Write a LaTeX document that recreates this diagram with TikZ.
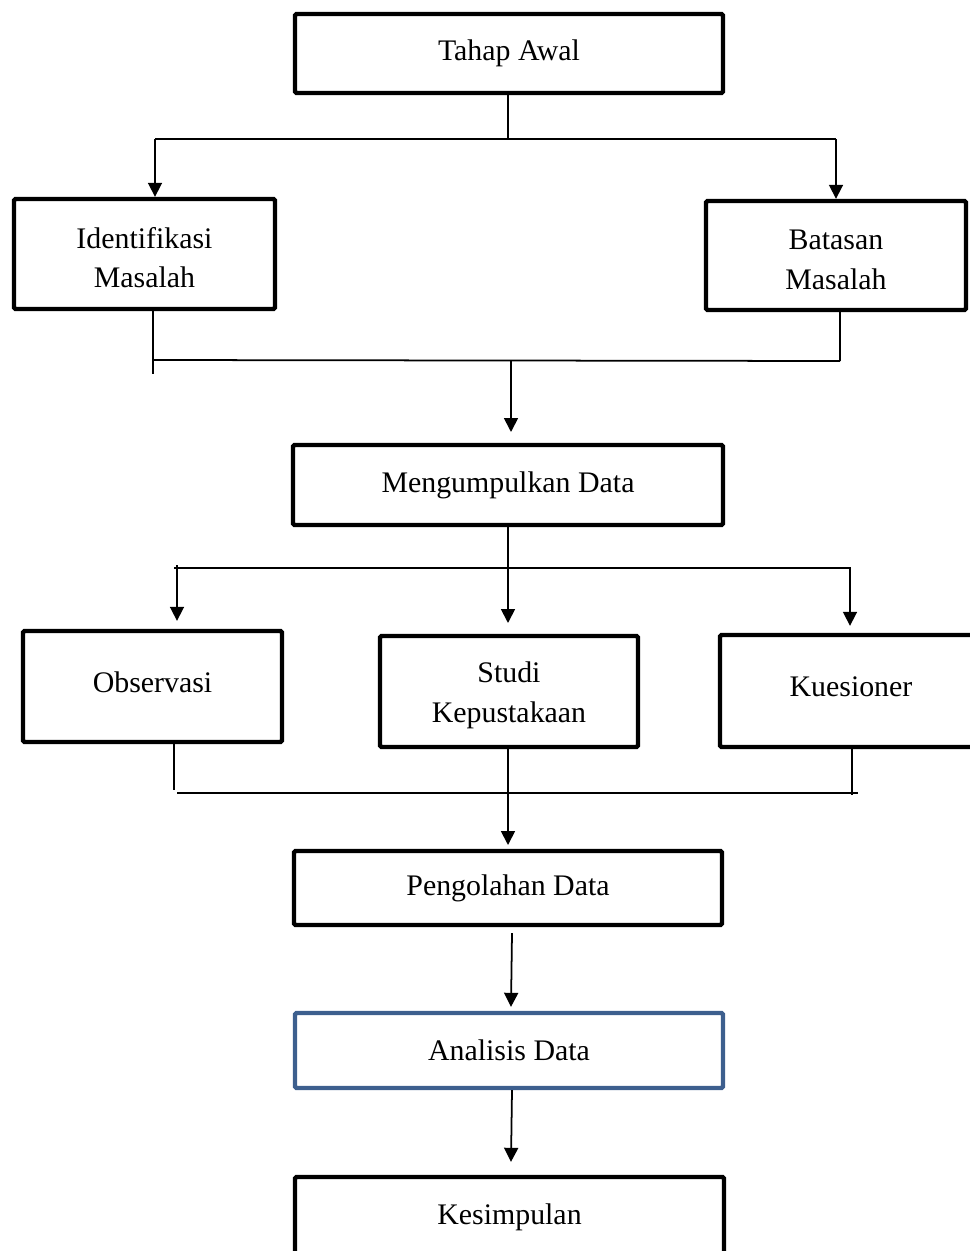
\documentclass[tikz,border=0pt]{standalone}
\usepackage{fontspec}
\setmainfont{Liberation Serif}
\usepackage{xcolor}
\usepackage{tikz}
\usetikzlibrary{arrows.meta,calc,positioning}
\definecolor{ink}{HTML}{000000}
\definecolor{steel}{HTML}{3D5F8E}
\tikzset{
  box/.style={draw=ink,line width=2.5pt,rectangle,rounded corners=.8pt,align=center,inner sep=0pt,
    font=\fontsize{17}{22.7}\selectfont},
  boxsize/.style 2 args={minimum width=#1,minimum height=#2},
  twolines/.style={text height=38.8pt},
  oneline/.style={text depth=4.5pt},
  link/.style={draw=ink,line width=1pt},
  flow/.style={-{Triangle[length=.28cm,width=.28cm]},draw=ink,line width=1pt}
}
\begin{document}
\begin{tikzpicture}[x=.02cm,y=-.02cm]
  \useasboundingbox (0,0) rectangle (970,1251);
  \node[box,boxsize={8.56cm}{1.58cm}] (tahap) at (509,53.5) {Tahap Awal};
  \node[box,twolines,boxsize={5.22cm}{2.2cm}] (ident) at (144.5,254) {Identifikasi\\Masalah};
  \node[box,twolines,boxsize={5.2cm}{2.18cm}] (batas) at (836,255.5) {Batasan\\Masalah};
  \node[box,boxsize={8.6cm}{1.6cm}] (kumpul) at (508,485) {Mengumpulkan Data};
  \node[box,oneline,boxsize={5.18cm}{2.22cm}] (obs) at (152.5,686.5) {Observasi};
  \node[box,twolines,boxsize={5.16cm}{2.22cm}] (studi) at (509,691.5) {Studi\\Kepustakaan};
  \node[box,oneline,boxsize={5.24cm}{2.24cm}] (kues) at (851,691) {Kuesioner};
  \node[box,boxsize={8.56cm}{1.48cm}] (olah) at (508,888) {Pengolahan Data};
  \node[box,draw=steel,boxsize={8.56cm}{1.5cm}] (analisis) at (509,1050.5) {Analisis Data};
  \node[box,boxsize={8.58cm}{1.6cm}] (simpul) at (509.5,1217) {Kesimpulan};

  \coordinate (t-mid) at (508,139); \coordinate (t-l) at (155,139); \coordinate (t-r) at (836,139);
  \draw[link] (tahap.south -| t-mid) -- (t-mid);
  \draw[link] (t-l) -- (t-r);
  \draw[flow] (t-l) -- (t-l |- ident.north);
  \draw[flow] (t-r) -- (t-r |- batas.north);

  \coordinate (m-l) at (153,360); \coordinate (m-le) at (153,374);
  \coordinate (m-r) at (840,361); \coordinate (m-mid) at (511,360); \coordinate (m-in) at (511,432);
  \draw[link] (ident.south -| m-l) -- (m-le);
  \draw[link] (batas.south -| m-r) -- (m-r);
  \draw[link] (m-l) -- (m-r);
  \draw[flow] (m-mid) -- (m-in);

  \coordinate (k-l) at (174,568); \coordinate (k-r) at (851,568);
  \coordinate (k-a) at (177,565); \coordinate (k-b) at (850,568);
  \coordinate (k-in) at (508,623);
  \draw[link] (k-l) -- (k-r);
  \draw[flow] (kumpul.south -| k-in) -- (k-in);
  \draw[flow] (k-a) -- ($(k-a |- obs.north)+(0,-8)$);
  \draw[flow] (k-b) -- ($(k-b |- kues.north)+(0,-7)$);

  \coordinate (s-l) at (177,793); \coordinate (s-r) at (858,793);
  \coordinate (s-le) at (174,790); \coordinate (s-re) at (852,795);
  \coordinate (s-in) at (508,845);
  \draw[link] (s-l) -- (s-r);
  \draw[link] (obs.south -| s-le) -- (s-le);
  \draw[link] (kues.south -| s-re) -- (s-re);
  \draw[flow] (studi.south -| s-in) -- (s-in);

  \draw[flow] ($(olah.south)+(4,6)$) -- ($(analisis.north)+(2,-4)$);
  \draw[flow] ($(analisis.south)+(3,0)$) -- ($(simpul.north)+(1.5,-13)$);
\end{tikzpicture}
\end{document}
